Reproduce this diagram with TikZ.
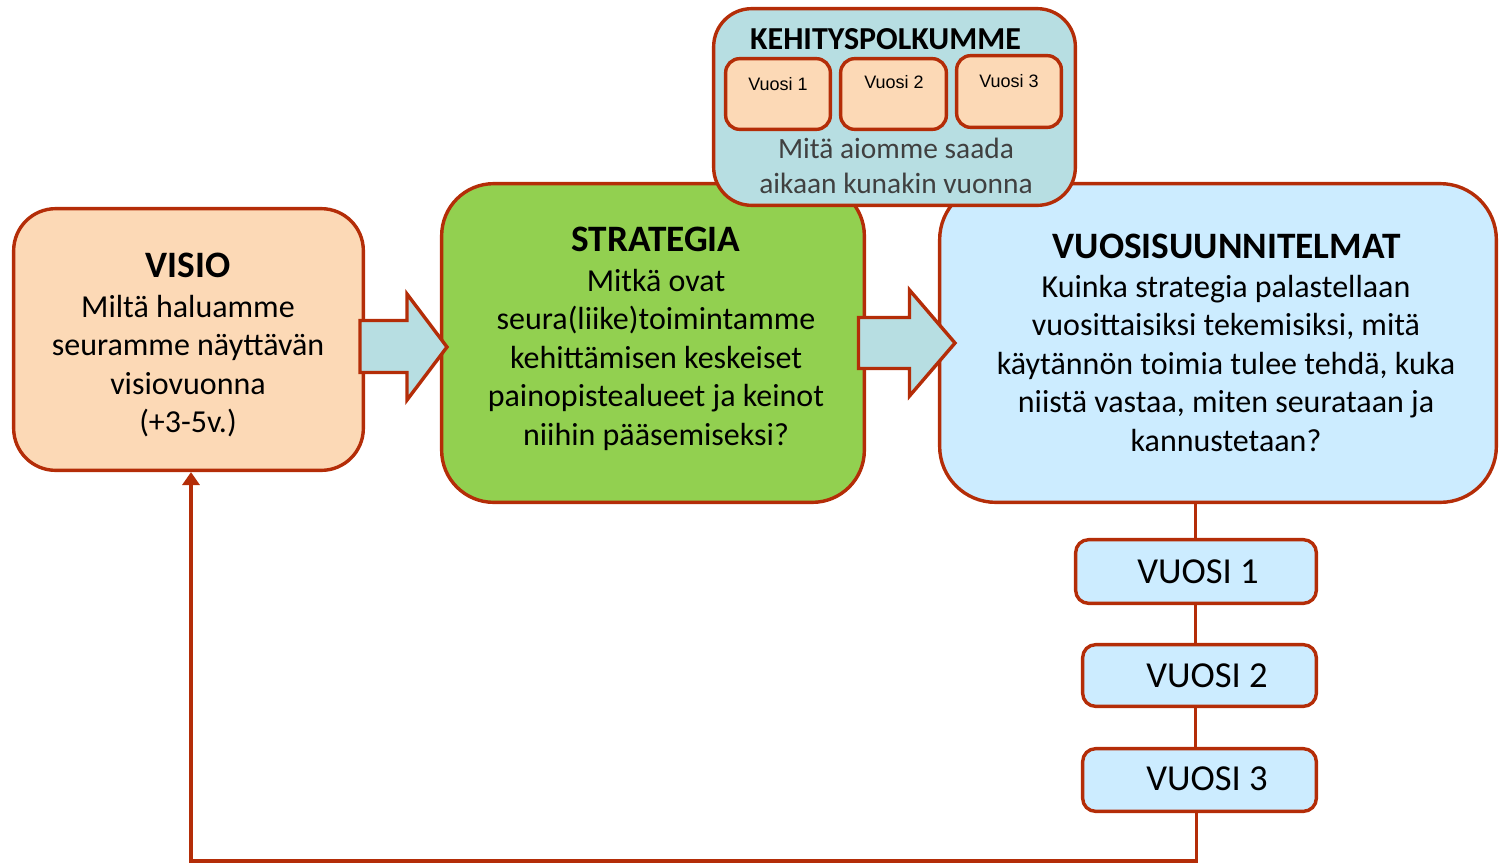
\documentclass[tikz,border=0pt]{standalone}
\usepackage{fontspec}
\setmainfont{Carlito}
\newfontfamily\arialfont{Liberation Sans}
\usetikzlibrary{arrows.meta}
\definecolor{edge}{RGB}{180,45,8}
\definecolor{peach}{RGB}{252,217,182}
\definecolor{leaf}{RGB}{146,208,80}
\definecolor{sky}{RGB}{204,236,255}
\definecolor{paleteal}{RGB}{183,222,226}
\definecolor{graytext}{RGB}{64,64,64}
\newcommand{\lines}[1]{\begin{tabular}[t]{@{}c@{}}#1\end{tabular}}
\begin{document}
\begin{tikzpicture}[x=1pt,y=-1pt,
  box/.style={draw=edge, line width=3.4pt, inner sep=0pt},
  bigbox/.style={box, rounded corners=52pt},
  smallbox/.style={box, fill=peach, rounded corners=14pt, minimum width=104.7pt, minimum height=70.7pt},
  yearbox/.style={box, fill=sky, rounded corners=13pt},
  txt/.style={inner sep=0pt, anchor=base},
  titlefont/.style={font=\bfseries\fontsize{37.3}{43}\selectfont},
  bodyfont/.style={font=\fontsize{32}{38.5}\selectfont},
  link/.style={draw=edge, line width=3.4pt},
  blockarrow/.style={draw=edge, line width=3.4pt, fill=paleteal, line join=miter}]
\useasboundingbox (0,0) rectangle (1505,863);

% main boxes
\node[bigbox, fill=peach, rounded corners=42pt, minimum width=349.7pt, minimum height=261.7pt] (visio) at (188.5,339.5) {};
\node[bigbox, fill=leaf, minimum width=422.7pt, minimum height=318.7pt] (strat) at (653,343) {};
\node[bigbox, fill=sky, rounded corners=56pt, minimum width=556.7pt, minimum height=318.7pt] (vuosis) at (1218,343) {};

% block arrows
\draw[blockarrow] (360,320.5) -- (407,320.5) -- (407,294) -- (447,347) -- (407,400) -- (407,372.5) -- (360,372.5) -- cycle;
\draw[blockarrow] (858.5,317.5) -- (909.5,317.5) -- (909.5,290) -- (955,343) -- (909.5,396) -- (909.5,368.5) -- (858.5,368.5) -- cycle;

% development path box
\node[bigbox, fill=paleteal, rounded corners=38pt, minimum width=361.7pt, minimum height=196.7pt] (kehit) at (894.5,107) {};
\node[smallbox] (k1) at (778,94) {};
\node[smallbox, minimum width=105.7pt] (k2) at (893.5,94) {};
\node[smallbox, minimum height=71.7pt] (k3) at (1009,91.5) {};

\node[txt, font=\bfseries\fontsize{32}{38}\selectfont] (kehitT) at (885.5,49) {KEHITYSPOLKUMME};
\node[txt, font=\arialfont\fontsize{18}{21}\selectfont] (k1t) at (778,90) {Vuosi 1};
\node[txt, font=\arialfont\fontsize{18}{21}\selectfont] (k2t) at (894,88) {Vuosi 2};
\node[txt, font=\arialfont\fontsize{18}{21}\selectfont] (k3t) at (1009,87) {Vuosi 3};
\node[txt, text=graytext, font=\fontsize{29.4}{35}\selectfont] (kehitB) at (896,158) {\lines{Mitä aiomme saada\\aikaan kunakin vuonna}};

% texts of main boxes
\node[txt, titlefont] (visioT) at (188,277) {VISIO};
\node[txt, bodyfont] (visioB) at (188,317) {\lines{Miltä haluamme\\seuramme näyttävän\\visiovuonna\\(+3-5v.)}};
\node[txt, titlefont] (stratT) at (656,251) {STRATEGIA};
\node[txt, bodyfont] (stratB) at (656,291) {\lines{Mitkä ovat\\seura(liike)toimintamme\\kehittämisen keskeiset\\painopistealueet ja keinot\\niihin pääsemiseksi?}};
\node[txt, titlefont] (vuosisT) at (1226.5,258) {VUOSISUUNNITELMAT};
\node[txt, bodyfont] (vuosisB) at (1226,297) {\lines{Kuinka strategia palastellaan\\vuosittaisiksi tekemisiksi, mitä\\käytännön toimia tulee tehdä, kuka\\niistä vastaa, miten seurataan ja\\kannustetaan?}};

% year boxes
\node[yearbox, minimum width=240.7pt, minimum height=63.7pt] (y1) at (1196,571.5) {};
\node[yearbox, minimum width=233.7pt, minimum height=61.7pt] (y2) at (1199.5,675.5) {};
\node[yearbox, minimum width=233.7pt, minimum height=62.7pt] (y3) at (1199.5,780) {};
\node[txt, font=\fontsize{36.6}{43}\selectfont] (y1t) at (1198,583) {VUOSI 1};
\node[txt, font=\fontsize{36.6}{43}\selectfont] (y2t) at (1207,687) {VUOSI 2};
\node[txt, font=\fontsize{36.6}{43}\selectfont] (y3t) at (1207,790) {VUOSI 3};

% connectors
\coordinate (lx) at (1195.5,0);
\coordinate (c1) at (1196.5,861);
\coordinate (c2) at (191,861);
\draw[link] (vuosis.south -| lx) -- (y1.north -| lx);
\draw[link] (y1.south -| lx) -- (y2.north -| lx);
\draw[link] (y2.south -| lx) -- (y3.north -| lx);
\draw[link, line join=miter, -{Triangle[width=17pt,length=13pt]}] (y3.south -| c1) -- (c1) -- (c2) -- (visio.south -| c2);
\end{tikzpicture}
\end{document}
